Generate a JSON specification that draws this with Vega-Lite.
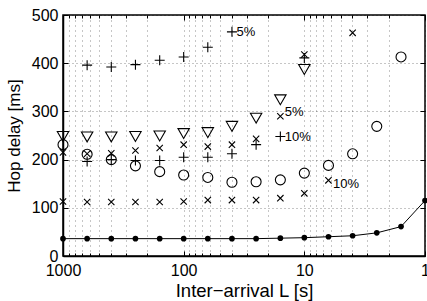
{
  "$schema": "https://vega.github.io/schema/vega-lite/v6.json",
  "width": 362,
  "height": 241,
  "autosize": "none",
  "padding": {"left": 63, "top": 15, "right": 2, "bottom": 45},
  "background": "white",
  "config": {
    "font": "Liberation Sans",
    "view": {"stroke": "black", "strokeWidth": 1.5},
    "axis": {
      "labelFont": "Liberation Sans",
      "titleFont": "Liberation Sans",
      "labelColor": "black",
      "titleColor": "black",
      "labelFontSize": 16,
      "titleFontSize": 17,
      "titleFontWeight": "normal",
      "domainColor": "black",
      "domainWidth": 1.5,
      "tickColor": "black",
      "tickWidth": 1,
      "gridColor": "black",
      "gridOpacity": 0.45,
      "gridWidth": 1
    }
  },
  "datasets": {
    "base": [
      {"L": 1000, "d": 36}, {"L": 631, "d": 36}, {"L": 398, "d": 36}, {"L": 251, "d": 36},
      {"L": 158, "d": 36}, {"L": 100, "d": 36}, {"L": 63.1, "d": 36}, {"L": 39.8, "d": 36},
      {"L": 25.1, "d": 36}, {"L": 15.8, "d": 37}, {"L": 10, "d": 38}, {"L": 6.31, "d": 40},
      {"L": 3.98, "d": 42}, {"L": 2.51, "d": 48}, {"L": 1.58, "d": 61}, {"L": 1, "d": 115}
    ],
    "marks": [
      {"m": "plus", "L": 631, "d": 396}, {"m": "plus", "L": 398, "d": 392}, {"m": "plus", "L": 251, "d": 397},
      {"m": "plus", "L": 158, "d": 406}, {"m": "plus", "L": 100, "d": 413}, {"m": "plus", "L": 63.1, "d": 433},
      {"m": "plus", "L": 39.8, "d": 465},
      {"m": "plus", "L": 631, "d": 196}, {"m": "plus", "L": 398, "d": 200}, {"m": "plus", "L": 251, "d": 198},
      {"m": "plus", "L": 158, "d": 198}, {"m": "plus", "L": 100, "d": 205}, {"m": "plus", "L": 63.1, "d": 205},
      {"m": "plus", "L": 39.8, "d": 212}, {"m": "plus", "L": 25.1, "d": 231}, {"m": "plus", "L": 15.8, "d": 248},
      {"m": "plus", "L": 10, "d": 411},
      {"m": "cross", "L": 1000, "d": 215}, {"m": "cross", "L": 631, "d": 212}, {"m": "cross", "L": 398, "d": 213},
      {"m": "cross", "L": 251, "d": 219}, {"m": "cross", "L": 158, "d": 224}, {"m": "cross", "L": 100, "d": 231},
      {"m": "cross", "L": 63.1, "d": 227}, {"m": "cross", "L": 39.8, "d": 231}, {"m": "cross", "L": 25.1, "d": 243},
      {"m": "cross", "L": 15.8, "d": 290}, {"m": "cross", "L": 10, "d": 418}, {"m": "cross", "L": 3.98, "d": 463},
      {"m": "cross", "L": 1000, "d": 113}, {"m": "cross", "L": 631, "d": 112}, {"m": "cross", "L": 398, "d": 112},
      {"m": "cross", "L": 251, "d": 112}, {"m": "cross", "L": 158, "d": 112}, {"m": "cross", "L": 100, "d": 113},
      {"m": "cross", "L": 63.1, "d": 116}, {"m": "cross", "L": 39.8, "d": 116}, {"m": "cross", "L": 25.1, "d": 116},
      {"m": "cross", "L": 15.8, "d": 120}, {"m": "cross", "L": 10, "d": 130}, {"m": "cross", "L": 6.31, "d": 157},
      {"m": "circle", "L": 1000, "d": 231}, {"m": "circle", "L": 631, "d": 211}, {"m": "circle", "L": 398, "d": 200},
      {"m": "circle", "L": 251, "d": 187}, {"m": "circle", "L": 158, "d": 175}, {"m": "circle", "L": 100, "d": 168},
      {"m": "circle", "L": 63.1, "d": 163}, {"m": "circle", "L": 39.8, "d": 153}, {"m": "circle", "L": 25.1, "d": 154},
      {"m": "circle", "L": 15.8, "d": 158}, {"m": "circle", "L": 10, "d": 172}, {"m": "circle", "L": 6.31, "d": 188},
      {"m": "circle", "L": 3.98, "d": 212}, {"m": "circle", "L": 2.51, "d": 269}, {"m": "circle", "L": 1.58, "d": 413},
      {"m": "tri", "L": 1000, "d": 248}, {"m": "tri", "L": 631, "d": 247}, {"m": "tri", "L": 398, "d": 247},
      {"m": "tri", "L": 251, "d": 248}, {"m": "tri", "L": 158, "d": 249}, {"m": "tri", "L": 100, "d": 254},
      {"m": "tri", "L": 63.1, "d": 256}, {"m": "tri", "L": 39.8, "d": 269}, {"m": "tri", "L": 25.1, "d": 286},
      {"m": "tri", "L": 15.8, "d": 324}, {"m": "tri", "L": 10, "d": 387}
    ],
    "labels": [
      {"L": 39.8, "d": 465, "t": "5%"},
      {"L": 15.8, "d": 299, "t": "5%"},
      {"L": 15.8, "d": 247, "t": "10%"},
      {"L": 6.31, "d": 150, "t": "10%"}
    ]
  },
  "layer": [
    {
      "data": {"name": "base"},
      "mark": {"type": "line", "color": "black", "strokeWidth": 1},
      "encoding": {
        "x": {
          "field": "L", "type": "quantitative",
          "scale": {"type": "log", "domain": [1, 1000], "reverse": true, "nice": false},
          "axis": {
            "orient": "bottom",
            "title": "Inter\u2212arrival L [s]",
            "titleFontSize": 18.5,
            "titlePadding": 1,
            "values": [1,2,3,4,5,6,7,8,9,10,20,30,40,50,60,70,80,90,100,200,300,400,500,600,700,800,900,1000],
            "format": "d",
            "labelExpr": "(datum.value == 1 || datum.value == 10 || datum.value == 100 || datum.value == 1000) ? datum.label : ''",
            "tickSize": {"condition": {"test": "datum.value == 1 || datum.value == 10 || datum.value == 100 || datum.value == 1000", "value": -5}, "value": -3},
            "labelPadding": 11,
            "labelBaseline": "top",
            "labelFlush": false,
            "labelOverlap": false,
            "grid": true,
            "gridDash": [1, 4]
          }
        },
        "y": {
          "field": "d", "type": "quantitative",
          "scale": {"domain": [0, 500], "nice": false},
          "axis": {
            "orient": "left",
            "title": "Hop delay [ms]",
            "titlePadding": 8,
            "values": [0, 100, 200, 300, 400, 500],
            "tickSize": -5,
            "labelPadding": 10,
            "grid": true,
            "gridDash": [1, 3]
          }
        }
      }
    },
    {
      "data": {"name": "base"},
      "mark": {"type": "point", "filled": true, "color": "black", "opacity": 1, "size": 32, "shape": "circle"},
      "encoding": {
        "x": {"field": "L", "type": "quantitative", "axis": null},
        "y": {"field": "d", "type": "quantitative", "axis": null}
      }
    },
    {
      "data": {"name": "marks"},
      "transform": [{"filter": "datum.m == 'plus'"}],
      "mark": {"type": "point", "filled": false, "color": "black", "opacity": 1, "strokeWidth": 1.1, "shape": "M-1,0L1,0M0,-1L0,1", "size": 100},
      "encoding": {
        "x": {"field": "L", "type": "quantitative", "axis": null},
        "y": {"field": "d", "type": "quantitative", "axis": null}
      }
    },
    {
      "data": {"name": "marks"},
      "transform": [{"filter": "datum.m == 'cross'"}],
      "mark": {"type": "point", "filled": false, "color": "black", "opacity": 1, "strokeWidth": 1.1, "shape": "M-1,-1L1,1M-1,1L1,-1", "size": 40},
      "encoding": {
        "x": {"field": "L", "type": "quantitative", "axis": null},
        "y": {"field": "d", "type": "quantitative", "axis": null}
      }
    },
    {
      "data": {"name": "marks"},
      "transform": [{"filter": "datum.m == 'circle'"}],
      "mark": {"type": "point", "filled": false, "color": "black", "opacity": 1, "strokeWidth": 1.1, "shape": "circle", "size": 100},
      "encoding": {
        "x": {"field": "L", "type": "quantitative", "axis": null},
        "y": {"field": "d", "type": "quantitative", "axis": null}
      }
    },
    {
      "data": {"name": "marks"},
      "transform": [{"filter": "datum.m == 'tri'"}],
      "mark": {"type": "point", "filled": false, "color": "black", "opacity": 1, "strokeWidth": 1.1, "shape": "triangle-down", "size": 130},
      "encoding": {
        "x": {"field": "L", "type": "quantitative", "axis": null},
        "y": {"field": "d", "type": "quantitative", "axis": null}
      }
    },
    {
      "data": {"name": "labels"},
      "mark": {"type": "text", "align": "left", "baseline": "middle", "dx": 4.5, "fontSize": 13, "font": "Liberation Sans", "color": "black"},
      "encoding": {
        "x": {"field": "L", "type": "quantitative", "axis": null},
        "y": {"field": "d", "type": "quantitative", "axis": null},
        "text": {"field": "t"}
      }
    },
    {
      "data": {"name": "base"},
      "mark": {"type": "point", "opacity": 0},
      "encoding": {
        "x": {
          "field": "L", "type": "quantitative",
          "axis": {
            "orient": "top", "title": null, "labels": false, "grid": false, "domain": false,
            "values": [1,2,3,4,5,6,7,8,9,10,20,30,40,50,60,70,80,90,100,200,300,400,500,600,700,800,900,1000],
            "tickSize": {"condition": {"test": "datum.value == 1 || datum.value == 10 || datum.value == 100 || datum.value == 1000", "value": -5}, "value": -3}
          }
        },
        "y": {
          "field": "d", "type": "quantitative",
          "axis": {
            "orient": "right", "title": null, "labels": false, "grid": false, "domain": false,
            "values": [0, 100, 200, 300, 400, 500],
            "tickSize": -5
          }
        }
      }
    }
  ],
  "resolve": {"axis": {"x": "independent", "y": "independent"}}
}
